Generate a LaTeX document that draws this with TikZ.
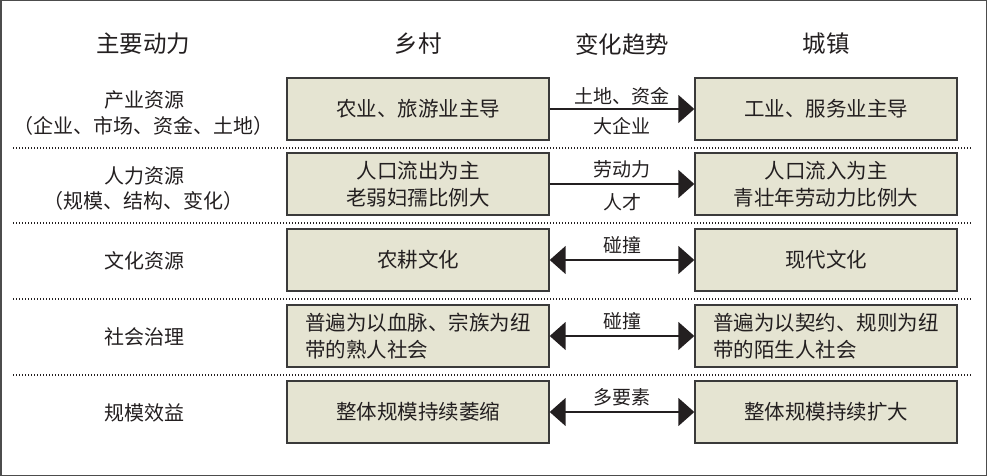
\documentclass[tikz,border=0pt]{standalone}
\usepackage{fontspec}
\setmainfont{Noto Sans CJK SC}
\usetikzlibrary{arrows.meta}
\definecolor{boxfill}{HTML}{E5E4D2}
\definecolor{ink}{HTML}{231F20}
\definecolor{edge}{HTML}{3A3A3A}
\begin{document}
\begin{tikzpicture}[x=1pt,y=-1pt,
  cell/.style={draw=edge, line width=1.4pt, fill=boxfill, minimum width=262pt, minimum height=62pt,
    inner sep=0pt, font=\fontsize{20.5}{27}\selectfont, text=ink, align=center},
  head/.style={font=\fontsize{23.5}{28}\selectfont, text=ink, inner sep=0pt},
  side/.style={font=\fontsize{20}{25}\selectfont, text=ink, inner sep=0pt},
  lab/.style={font=\fontsize{19}{22}\selectfont, text=ink, inner sep=0pt},
  flow/.style={line width=1.5pt, draw=ink, -{Triangle[length=16pt,width=28pt]}},
  both/.style={line width=1.5pt, draw=ink, {Triangle[length=16pt,width=28pt]}-{Triangle[length=16pt,width=28pt]}},
  sep/.style={line width=1.4pt, draw=ink, dash pattern=on 1.4pt off 1.6pt}]
\useasboundingbox (0,0) rectangle (987,476);
\draw[line width=1.5pt, draw=black!70] (0.75,0.75) rectangle (986.25,475.25);

% headers
\node[head] (h1) at (143,44) {主要动力};
\node[head] (h2) at (418,44) {乡村};
\node[head] (h3) at (622,44) {变化趋势};
\node[head] (h4) at (826,44) {城镇};

% separators
\foreach \y in {148,223,299,375} {
  \draw[sep] (13,\y) -- (971,\y);
}

% side labels
\node[side] (s1a) at (144,100) {产业资源};
\node[side] (s1b) at (143,126) {（企业、市场、资金、土地）};
\node[side] (s2a) at (144,176) {人力资源};
\node[side] (s2b) at (143,201) {（规模、结构、变化）};
\node[side] (s3) at (144,261) {文化资源};
\node[side] (s4) at (144,337) {社会治理};
\node[side] (s5) at (144,413) {规模效益};

% boxes
\node[cell] (l1) at (418,109) {农业、旅游业主导};
\node[cell] (r1) at (826,109) {工业、服务业主导};
\node[cell] (l2) at (418,184) {人口流出为主\\老弱妇孺比例大};
\node[cell] (r2) at (826,184) {人口流入为主\\青壮年劳动力比例大};
\node[cell] (l3) at (418,260) {农耕文化};
\node[cell] (r3) at (826,260) {现代文化};
\node[cell, align=left] (l4) at (418,336) {普遍为以血脉、宗族为纽\\带的熟人社会};
\node[cell, align=left] (r4) at (826,336) {普遍为以契约、规则为纽\\带的陌生人社会};
\node[cell] (l5) at (418,412) {整体规模持续萎缩};
\node[cell] (r5) at (826,412) {整体规模持续扩大};

% connectors
\draw[flow] (l1.east) -- node[lab, midway, yshift=13pt] {土地、资金} node[lab, midway, yshift=-17pt] {大企业} (r1.west);
\draw[flow] (l2.east) -- node[lab, midway, yshift=15pt] {劳动力} node[lab, midway, yshift=-18pt] {人才} (r2.west);
\draw[both] (l3.east) -- node[lab, midway, yshift=15pt] {碰撞} (r3.west);
\draw[both] (l4.east) -- node[lab, midway, yshift=15pt] {碰撞} (r4.west);
\draw[both] (l5.east) -- node[lab, midway, yshift=15pt] {多要素} (r5.west);
\end{tikzpicture}
\end{document}
